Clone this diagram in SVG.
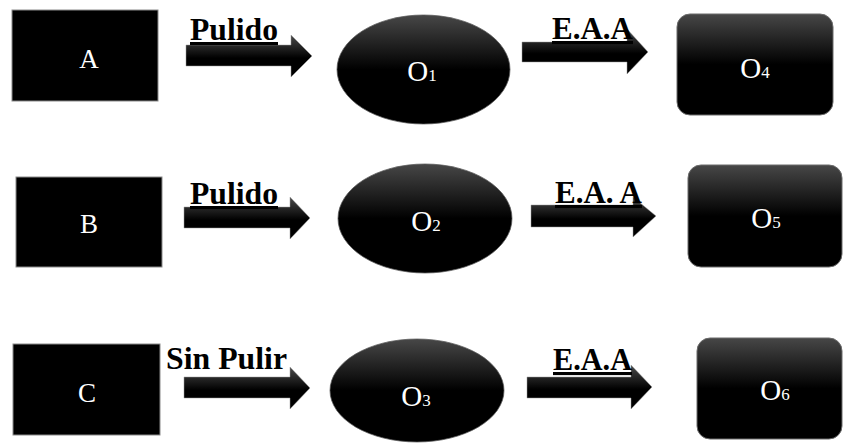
<svg xmlns="http://www.w3.org/2000/svg" width="843" height="443" viewBox="0 0 843 443" font-family="'Liberation Serif', 'Times New Roman', Times, serif">
  <defs>
    <linearGradient id="gShape" x1="0" y1="0" x2="0" y2="1">
      <stop offset="0" stop-color="#474747"/>
      <stop offset="0.5" stop-color="#000000"/>
      <stop offset="1" stop-color="#000000"/>
    </linearGradient>
    <linearGradient id="gArrow" x1="0" y1="0" x2="0" y2="1">
      <stop offset="0" stop-color="#4a4a4a"/>
      <stop offset="0.55" stop-color="#000000"/>
      <stop offset="1" stop-color="#000000"/>
    </linearGradient>
    <style>
      .box { fill: #000; stroke: #8a8a8a; stroke-width: 1; }
      .ell { fill: url(#gShape); stroke: #5a5a5a; stroke-width: 0.75; }
      .rr { fill: url(#gShape); stroke: #6a6a6a; stroke-width: 1; }
      .arrow { fill: url(#gArrow); stroke: #9a9a9a; stroke-width: 0.5; }
      .lbl { fill: #fff; font-size: 27px; }
      .olbl { fill: #fff; font-size: 29px; }
      .sub { font-size: 17px; }
      .elbl { font-weight: bold; font-size: 31px; fill: #000; }
      .ul { text-decoration: underline; }
    </style>
  </defs>

  <g id="connectors">
    <polygon class="arrow" points="186,45 291,45 291,35 312,56 291,77 291,66 186,66"/>
    <polygon class="arrow" points="522,42 627,42 627,29 648,52 627,74 627,62 522,62"/>
    <polygon class="arrow" points="184,207 290,207 290,197 310,218 290,239 290,228 184,228"/>
    <polygon class="arrow" points="531,205 633,205 633,197 656,216 633,237 633,227 531,227"/>
    <polygon class="arrow" points="184,377 290,377 290,367 310,388 290,409 290,398 184,398"/>
    <polygon class="arrow" points="527,377 631,377 631,365 652,387 631,409 631,398 527,398"/>
    <text class="elbl ul" font-family="Liberation Serif" x="190" y="40" textLength="88" lengthAdjust="spacingAndGlyphs">Pulido</text>
    <text class="elbl ul" font-family="Liberation Serif" x="552" y="39" textLength="81" lengthAdjust="spacingAndGlyphs">E.A.A</text>
    <text class="elbl ul" font-family="Liberation Serif" x="190" y="204" textLength="88" lengthAdjust="spacingAndGlyphs">Pulido</text>
    <text class="elbl ul" font-family="Liberation Serif" x="555" y="203" textLength="87" lengthAdjust="spacingAndGlyphs">E.A. A</text>
    <text class="elbl" font-family="Liberation Serif" x="166" y="369" textLength="121" lengthAdjust="spacingAndGlyphs">Sin Pulir</text>
    <text class="elbl ul" font-family="Liberation Serif" x="553" y="370" textLength="79" lengthAdjust="spacingAndGlyphs">E.A.A</text>
  </g>

  <g id="node-A">
    <rect class="box" x="12" y="10" width="146" height="91"/>
    <text class="lbl" font-family="Liberation Serif" x="89" y="68" text-anchor="middle">A</text>
  </g>
  <g id="node-B">
    <rect class="box" x="16" y="177" width="146" height="90"/>
    <text class="lbl" font-family="Liberation Serif" x="89" y="233" text-anchor="middle">B</text>
  </g>
  <g id="node-C">
    <rect class="box" x="13" y="344" width="147" height="91"/>
    <text class="lbl" font-family="Liberation Serif" x="87" y="402" text-anchor="middle">C</text>
  </g>

  <g id="node-O1">
    <ellipse class="ell" cx="423.5" cy="69.5" rx="86.5" ry="54.5"/>
    <text class="olbl" font-family="Liberation Serif" x="422" y="81" text-anchor="middle">O<tspan class="sub">1</tspan></text>
  </g>
  <g id="node-O2">
    <ellipse class="ell" cx="425" cy="218.5" rx="87" ry="54.5"/>
    <text class="olbl" font-family="Liberation Serif" x="426" y="231" text-anchor="middle">O<tspan class="sub">2</tspan></text>
  </g>
  <g id="node-O3">
    <ellipse class="ell" cx="417" cy="390.5" rx="87" ry="51.5"/>
    <text class="olbl" font-family="Liberation Serif" x="416" y="406" text-anchor="middle">O<tspan class="sub">3</tspan></text>
  </g>

  <g id="node-O4">
    <rect class="rr" x="677" y="14" width="156" height="101" rx="13" ry="13"/>
    <text class="olbl" font-family="Liberation Serif" x="755" y="78" text-anchor="middle">O<tspan class="sub">4</tspan></text>
  </g>
  <g id="node-O5">
    <rect class="rr" x="688" y="165" width="154" height="102" rx="13" ry="13"/>
    <text class="olbl" font-family="Liberation Serif" x="766" y="228" text-anchor="middle">O<tspan class="sub">5</tspan></text>
  </g>
  <g id="node-O6">
    <rect class="rr" x="697" y="338" width="145" height="101" rx="13" ry="13"/>
    <text class="olbl" font-family="Liberation Serif" x="775" y="400" text-anchor="middle">O<tspan class="sub">6</tspan></text>
  </g>
</svg>
